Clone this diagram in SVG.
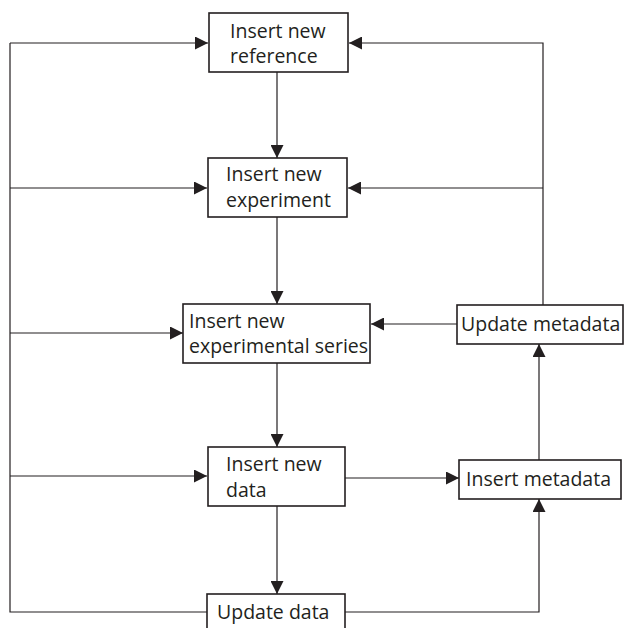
<svg xmlns="http://www.w3.org/2000/svg" width="624" height="628" viewBox="0 0 624 628">
<style>
.box{fill:#fff;stroke:#231f20;stroke-width:1.6}
.t{font-family:"Open Sans","Liberation Sans",sans-serif;font-size:19.5px;fill:#231f20}
.ln{fill:none;stroke:#231f20;stroke-width:1.2}
</style>
<defs>
<marker id="ah" viewBox="0 0 10 10" refX="10" refY="5" markerWidth="13" markerHeight="13" markerUnits="userSpaceOnUse" orient="auto">
<path d="M0,0 L10,5 L0,10 Z" fill="#231f20"/>
</marker>
</defs>
<rect width="624" height="628" fill="#fff"/>
<g id="connectors">
<path class="ln" d="M10,43 V612 H207"/>
<path class="ln" d="M10,43 H208" marker-end="url(#ah)"/>
<path class="ln" d="M10,188 H207" marker-end="url(#ah)"/>
<path class="ln" d="M10,333 H183" marker-end="url(#ah)"/>
<path class="ln" d="M10,476 H207" marker-end="url(#ah)"/>
<path class="ln" d="M277,72 V158" marker-end="url(#ah)"/>
<path class="ln" d="M277,217 V304" marker-end="url(#ah)"/>
<path class="ln" d="M277,363 V447" marker-end="url(#ah)"/>
<path class="ln" d="M277,506 V594" marker-end="url(#ah)"/>
<path class="ln" d="M543,305 V43 H349" marker-end="url(#ah)"/>
<path class="ln" d="M543,188 H348" marker-end="url(#ah)"/>
<path class="ln" d="M457,324 H371" marker-end="url(#ah)"/>
<path class="ln" d="M345,478 H459" marker-end="url(#ah)"/>
<path class="ln" d="M539,460 V344" marker-end="url(#ah)"/>
<path class="ln" d="M345,612 H539 V499" marker-end="url(#ah)"/>
</g>
<g id="n1"><rect class="box" x="209" y="13" width="139" height="59"/><text class="t" x="230" y="38">Insert new</text><text class="t" x="230" y="63">reference</text></g>
<g id="n2"><rect class="box" x="208" y="158" width="139" height="59"/><text class="t" x="226" y="181">Insert new</text><text class="t" x="226" y="207">experiment</text></g>
<g id="n3"><rect class="box" x="183" y="304" width="187" height="59"/><text class="t" x="189" y="328">Insert new</text><text class="t" x="189" y="353">experimental series</text></g>
<g id="n4"><rect class="box" x="208" y="447" width="137" height="59"/><text class="t" x="226" y="471">Insert new</text><text class="t" x="226" y="497">data</text></g>
<g id="n5"><rect class="box" x="207" y="594" width="138" height="40"/><text class="t" x="217" y="619">Update data</text></g>
<g id="n6"><rect class="box" x="457" y="305" width="166" height="39"/><text class="t" x="461" y="331">Update metadata</text></g>
<g id="n7"><rect class="box" x="459" y="460" width="162" height="39"/><text class="t" x="466" y="486">Insert metadata</text></g>
</svg>
